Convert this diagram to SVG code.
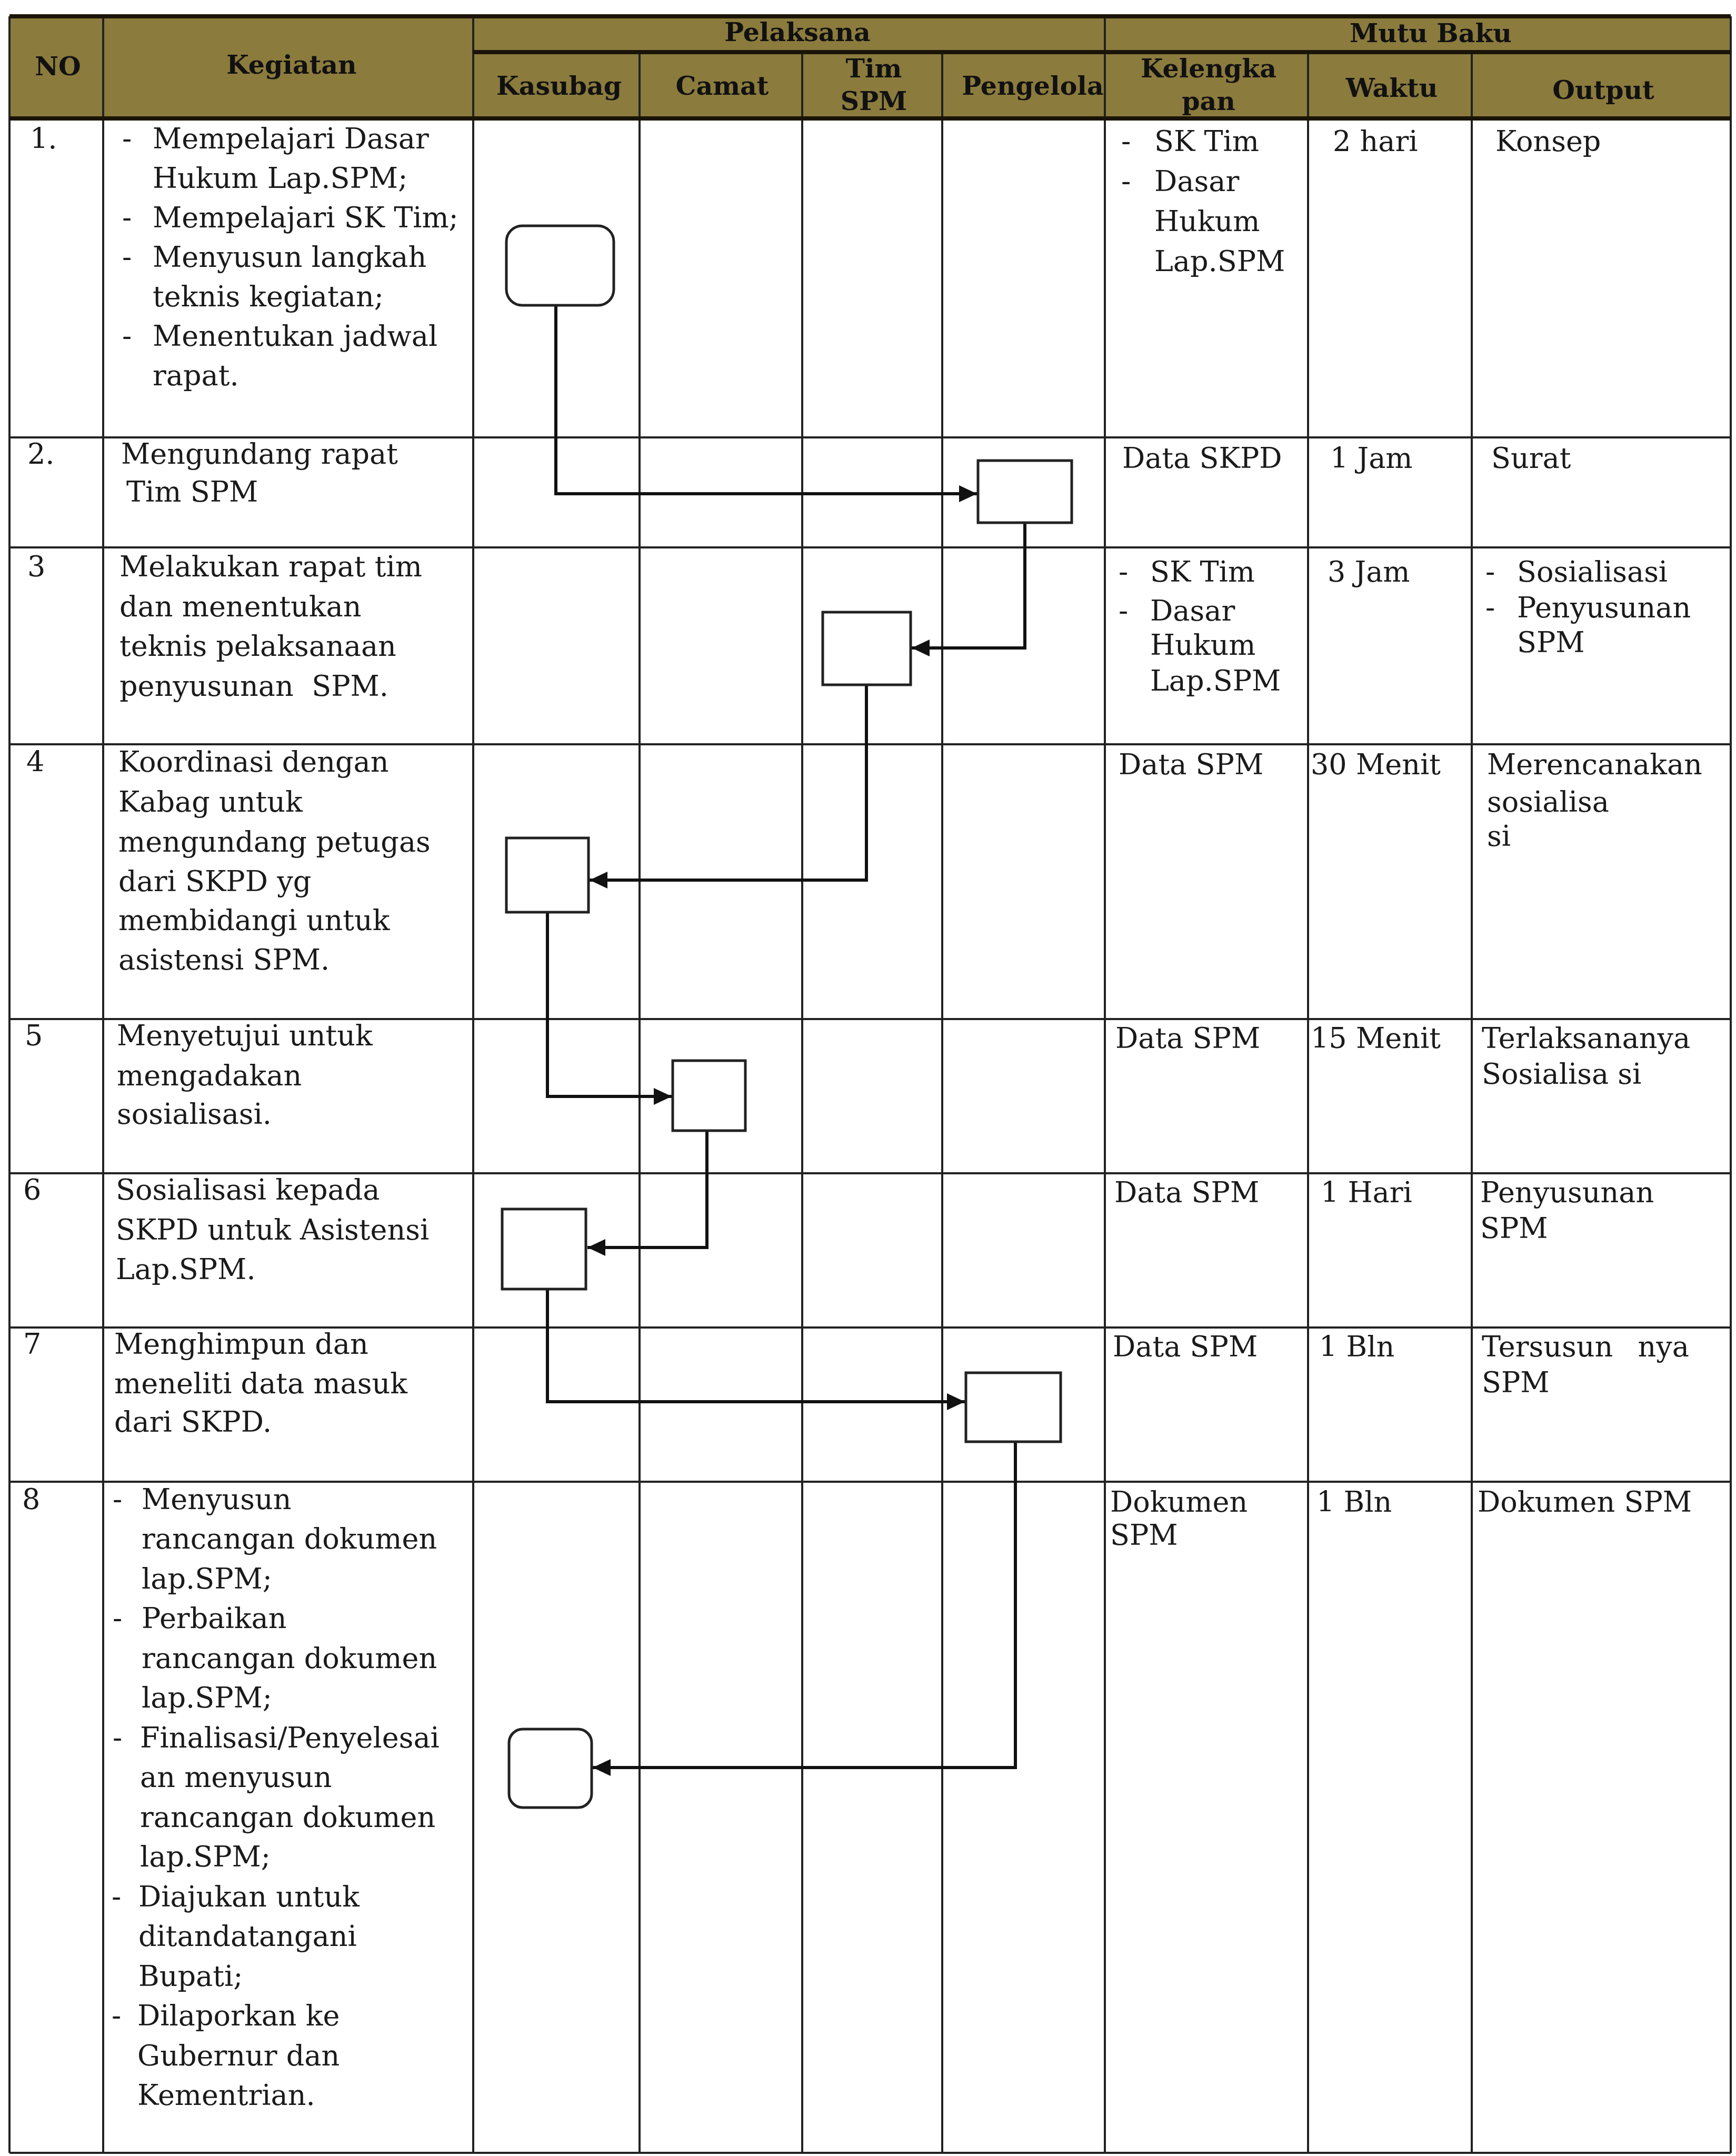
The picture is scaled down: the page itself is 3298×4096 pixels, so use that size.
<svg xmlns="http://www.w3.org/2000/svg" width="3298" height="4096" viewBox="0 0 3298 4096">
<style>
.t{font-family:"DejaVu Serif","Liberation Serif",serif;font-size:54px;fill:#1a1a1a}
.h{font-family:"DejaVu Serif","Liberation Serif",serif;font-size:49px;font-weight:bold;fill:#111;text-anchor:middle}
.g{stroke:#222;stroke-width:4;fill:none}
.gh{stroke:#1a1408;stroke-width:8;fill:none}
.box{fill:#fff;stroke:#222;stroke-width:5}
.c{fill:none;stroke:#111;stroke-width:6}
</style>
<defs>
<marker id="arr" markerUnits="userSpaceOnUse" markerWidth="34" markerHeight="32" refX="34" refY="16" orient="auto">
<path d="M0,0 L34,16 L0,32 z" fill="#111"/>
</marker>
</defs>
<rect width="3298" height="4096" fill="#fff"/>
<g id="table">
<rect x="18" y="31" width="3270" height="194" fill="#8B7B3D"/>
<path class="g" d="M196,31V4090 M899,31V4090 M1215,99V4090 M1524,99V4090 M1790,99V4090 M2099,31V4090 M2485,99V4090 M2796,99V4090 M18,31V4090 M3288,31V4090"/>
<path class="g" d="M18,831H3288 M18,1040H3288 M18,1414H3288 M18,1936H3288 M18,2229H3288 M18,2522H3288 M18,2815H3288 M18,4090H3288"/>
<path class="gh" d="M18,31H3288 M899,99H3288 M18,225H3288"/>
</g>
<g id="header">
<text class="h" x="110" y="143">NO</text>
<text class="h" x="554" y="140">Kegiatan</text>
<text class="h" x="1515" y="78">Pelaksana</text>
<text class="h" x="2718" y="80">Mutu Baku</text>
<text class="h" x="1062" y="180">Kasubag</text>
<text class="h" x="1372" y="180">Camat</text>
<text class="h" x="1660" y="147">Tim</text>
<text class="h" x="1660" y="209">SPM</text>
<text class="h" x="1962" y="180">Pengelola</text>
<text class="h" x="2296" y="147">Kelengka</text>
<text class="h" x="2296" y="209">pan</text>
<text class="h" x="2644" y="184">Waktu</text>
<text class="h" x="3046" y="188">Output</text>
</g>
<g id="row1" class="t">
<text x="57" y="282">1.</text>
<text x="232" y="282">-</text><text x="290" y="282">Mempelajari Dasar</text>
<text x="290" y="357">Hukum Lap.SPM;</text>
<text x="232" y="432">-</text><text x="290" y="432">Mempelajari SK Tim;</text>
<text x="232" y="507">-</text><text x="290" y="507">Menyusun langkah</text>
<text x="290" y="582">teknis kegiatan;</text>
<text x="232" y="657">-</text><text x="290" y="657">Menentukan jadwal</text>
<text x="290" y="732">rapat.</text>
<text x="2130" y="287">-</text><text x="2193" y="287">SK Tim</text>
<text x="2130" y="363">-</text><text x="2193" y="363">Dasar</text>
<text x="2193" y="439">Hukum</text>
<text x="2193" y="515">Lap.SPM</text>
<text x="2532" y="287">2 hari</text>
<text x="2841" y="287">Konsep</text>
</g>
<g id="row2" class="t">
<text x="52" y="881">2.</text>
<text x="230" y="881">Mengundang rapat</text>
<text x="240" y="953">Tim SPM</text>
<text x="2132" y="889">Data SKPD</text>
<text x="2527" y="889">1 Jam</text>
<text x="2833" y="889">Surat</text>
</g>
<g id="row3" class="t">
<text x="52" y="1095">3</text>
<text x="227" y="1095">Melakukan rapat tim</text>
<text x="227" y="1171">dan menentukan</text>
<text x="227" y="1246">teknis pelaksanaan</text>
<text x="227" y="1322">penyusunan&#160; SPM.</text>
<text x="2125" y="1105">-</text><text x="2185" y="1105">SK Tim</text>
<text x="2125" y="1179">-</text><text x="2185" y="1179">Dasar</text>
<text x="2185" y="1244">Hukum</text>
<text x="2185" y="1312">Lap.SPM</text>
<text x="2522" y="1105">3 Jam</text>
<text x="2822" y="1105">-</text><text x="2882" y="1105">Sosialisasi</text>
<text x="2822" y="1173">-</text><text x="2882" y="1173">Penyusunan</text>
<text x="2882" y="1239">SPM</text>
</g>
<g id="row4" class="t">
<text x="50" y="1466">4</text>
<text x="225" y="1466">Koordinasi dengan</text>
<text x="225" y="1542">Kabag untuk</text>
<text x="225" y="1618">mengundang petugas</text>
<text x="225" y="1693">dari SKPD yg</text>
<text x="225" y="1767">membidangi untuk</text>
<text x="225" y="1842">asistensi SPM.</text>
<text x="2125" y="1471">Data SPM</text>
<text x="2490" y="1471">30 Menit</text>
<text x="2825" y="1471">Merencanakan</text>
<text x="2825" y="1542">sosialisa</text>
<text x="2825" y="1607">si</text>
</g>
<g id="row5" class="t">
<text x="47" y="1986">5</text>
<text x="222" y="1986">Menyetujui untuk</text>
<text x="222" y="2062">mengadakan</text>
<text x="222" y="2135">sosialisasi.</text>
<text x="2119" y="1991">Data SPM</text>
<text x="2490" y="1991">15 Menit</text>
<text x="2815" y="1991">Terlaksananya</text>
<text x="2815" y="2059">Sosialisa si</text>
</g>
<g id="row6" class="t">
<text x="44" y="2279">6</text>
<text x="220" y="2279">Sosialisasi kepada</text>
<text x="220" y="2355">SKPD untuk Asistensi</text>
<text x="220" y="2430">Lap.SPM.</text>
<text x="2117" y="2284">Data SPM</text>
<text x="2509" y="2284">1 Hari</text>
<text x="2812" y="2284">Penyusunan</text>
<text x="2812" y="2352">SPM</text>
</g>
<g id="row7" class="t">
<text x="44" y="2572">7</text>
<text x="217" y="2572">Menghimpun dan</text>
<text x="217" y="2647">meneliti data masuk</text>
<text x="217" y="2720">dari SKPD.</text>
<text x="2114" y="2577">Data SPM</text>
<text x="2506" y="2577">1 Bln</text>
<text x="2815" y="2577">Tersusun</text><text x="3209" y="2577" text-anchor="end">nya</text>
<text x="2815" y="2645">SPM</text>
</g>
<g id="row8" class="t">
<text x="42" y="2867">8</text>
<text x="214" y="2867">-</text><text x="269" y="2867">Menyusun</text>
<text x="269" y="2942">rancangan dokumen</text>
<text x="269" y="3018">lap.SPM;</text>
<text x="214" y="3093">-</text><text x="269" y="3093">Perbaikan</text>
<text x="269" y="3169">rancangan dokumen</text>
<text x="269" y="3244">lap.SPM;</text>
<text x="214" y="3320">-</text><text x="266" y="3320">Finalisasi/Penyelesai</text>
<text x="266" y="3395">an menyusun</text>
<text x="266" y="3471">rancangan dokumen</text>
<text x="266" y="3546">lap.SPM;</text>
<text x="212" y="3622">-</text><text x="263" y="3622">Diajukan untuk</text>
<text x="263" y="3697">ditandatangani</text>
<text x="263" y="3773">Bupati;</text>
<text x="212" y="3848">-</text><text x="261" y="3848">Dilaporkan ke</text>
<text x="261" y="3924">Gubernur dan</text>
<text x="261" y="3999">Kementrian.</text>
<text x="2109" y="2872">Dokumen</text>
<text x="2109" y="2935">SPM</text>
<text x="2501" y="2872">1 Bln</text>
<text x="2807" y="2872">Dokumen SPM</text>
</g>
<g id="connectors">
<path class="c" marker-end="url(#arr)" d="M1056,580V938H1856"/>
<path class="c" marker-end="url(#arr)" d="M1947,993V1231H1732"/>
<path class="c" marker-end="url(#arr)" d="M1646,1301V1672H1120"/>
<path class="c" marker-end="url(#arr)" d="M1040,1733V2083H1276"/>
<path class="c" marker-end="url(#arr)" d="M1343,2148V2370H1116"/>
<path class="c" marker-end="url(#arr)" d="M1040,2449V2663H1833"/>
<path class="c" marker-end="url(#arr)" d="M1929,2739V3358H1126"/>
</g>
<g id="n1"><rect class="box" x="962" y="429" width="204" height="151" rx="30"/></g>
<g id="n2"><rect class="box" x="1858" y="875" width="178" height="118"/></g>
<g id="n3"><rect class="box" x="1563" y="1163" width="167" height="138"/></g>
<g id="n4"><rect class="box" x="962" y="1592" width="156" height="141"/></g>
<g id="n5"><rect class="box" x="1278" y="2015" width="138" height="133"/></g>
<g id="n6"><rect class="box" x="954" y="2297" width="159" height="152"/></g>
<g id="n7"><rect class="box" x="1835" y="2608" width="180" height="131"/></g>
<g id="n8"><rect class="box" x="967" y="3285" width="157" height="149" rx="26"/></g>
</svg>
